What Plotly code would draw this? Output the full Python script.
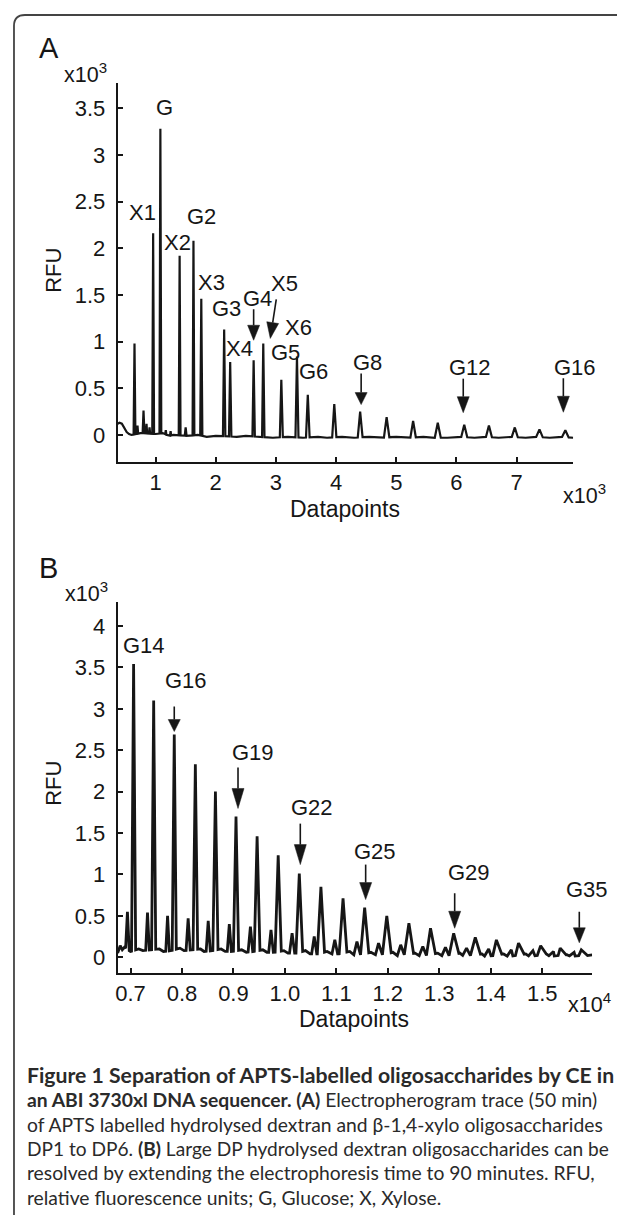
import numpy as np
import plotly.graph_objects as go

# ---------------- Panel A data (x: 10^3 datapoints, y: 10^3 RFU) ----------------
a_peak_x = [0.65, 0.70, 0.80, 0.85, 0.90, 0.96, 1.08, 1.17, 1.25, 1.40,
            1.50, 1.63, 1.76, 2.14, 2.24, 2.63, 2.79, 3.09, 3.35, 3.53,
            3.97, 4.40, 4.84, 5.28, 5.69, 6.13, 6.54, 6.97, 7.38, 7.81]
a_peak_h = [0.98, 0.10, 0.26, 0.12, 0.08, 2.16, 3.28, 0.05, 0.04, 1.92,
            0.08, 2.08, 1.46, 1.13, 0.78, 0.80, 0.98, 0.59, 0.84, 0.43,
            0.33, 0.25, 0.19, 0.15, 0.13, 0.11, 0.10, 0.08, 0.06, 0.05]
a_peak_w = [0.015, 0.01, 0.015, 0.01, 0.01, 0.015, 0.015, 0.01, 0.01, 0.015,
            0.015, 0.015, 0.018, 0.02, 0.02, 0.02, 0.02, 0.025, 0.025, 0.03,
            0.035, 0.04, 0.045, 0.045, 0.05, 0.05, 0.05, 0.05, 0.055, 0.055]
a_base_x = [0.37, 0.40, 0.44, 0.48, 0.52, 0.56, 0.60, 0.75, 1.00, 1.12, 1.22, 1.30,
            1.55, 1.70, 1.85, 2.00, 2.35, 2.50, 2.70, 2.95, 3.20, 3.45, 3.70, 3.85,
            4.10, 4.30, 4.55, 4.75, 5.00, 5.20, 5.45, 5.60, 5.85, 6.05, 6.30, 6.45,
            6.70, 6.90, 7.15, 7.30, 7.55, 7.72, 7.94]
a_base_y = [0.12, 0.13, 0.12, 0.08, 0.03, 0.01, 0.00, 0.02, 0.01, 0.02, -0.01, 0.00,
            -0.01, 0.00, -0.02, -0.01, -0.02, -0.01, -0.02, -0.03, -0.02, -0.03, -0.02, -0.03,
            -0.02, -0.03, -0.02, -0.03, -0.02, -0.03, -0.02, -0.03, -0.03, -0.02, -0.03, -0.02,
            -0.03, -0.02, -0.03, -0.02, -0.03, -0.02, -0.03]

# ---------------- Panel B data (x: 10^4 datapoints, y: 10^3 RFU) ----------------
b_main_x = [0.706, 0.745, 0.785, 0.826, 0.865, 0.905, 0.946, 0.987, 1.028, 1.070, 1.113,
            1.155, 1.198, 1.241, 1.283, 1.328, 1.370, 1.411, 1.454, 1.497, 1.535, 1.576]
b_main_h = [3.54, 3.10, 2.69, 2.33, 2.00, 1.70, 1.46, 1.23, 1.01, 0.85, 0.71,
            0.60, 0.50, 0.41, 0.35, 0.29, 0.24, 0.21, 0.17, 0.14, 0.11, 0.09]
b_main_w = [0.004, 0.004, 0.004, 0.0045, 0.005, 0.005, 0.0055, 0.006, 0.0065, 0.007, 0.0075,
            0.008, 0.0085, 0.009, 0.0095, 0.010, 0.010, 0.0105, 0.011, 0.011, 0.0115, 0.012]
b_minor_x = [0.694, 0.733, 0.772, 0.812, 0.851, 0.892, 0.933, 0.973, 1.014, 1.057, 1.097,
             1.140, 1.182, 1.225, 1.268, 1.312, 1.353, 1.396, 1.440, 1.482, 1.522, 1.562]
b_minor_h = [0.55, 0.54, 0.50, 0.47, 0.44, 0.40, 0.37, 0.33, 0.29, 0.25, 0.21,
             0.19, 0.17, 0.15, 0.13, 0.12, 0.11, 0.10, 0.09, 0.08, 0.07, 0.06]
b_minor_w = [0.0035, 0.0035, 0.0035, 0.004, 0.004, 0.004, 0.0045, 0.0045, 0.005, 0.005, 0.0055,
             0.006, 0.006, 0.0065, 0.007, 0.007, 0.0075, 0.008, 0.008, 0.0085, 0.009, 0.009]
b_base_x = [0.675, 0.680, 0.684, 0.688, 0.700, 0.716, 0.724, 0.739, 0.756, 0.764, 0.778,
            0.796, 0.804, 0.819, 0.836, 0.843, 0.858, 0.876, 0.884, 0.898, 0.916, 0.925,
            0.939, 0.957, 0.965, 0.980, 0.998, 1.006, 1.021, 1.040, 1.049, 1.063, 1.082,
            1.090, 1.105, 1.126, 1.133, 1.148, 1.167, 1.175, 1.190, 1.210, 1.218, 1.233,
            1.253, 1.261, 1.276, 1.297, 1.305, 1.320, 1.340, 1.346, 1.362, 1.383, 1.389,
            1.404, 1.425, 1.433, 1.447, 1.468, 1.475, 1.490, 1.508, 1.515, 1.529, 1.548,
            1.555, 1.569, 1.588, 1.597]
b_base_y = [0.05, 0.14, 0.09, 0.12, 0.07, 0.10, 0.08, 0.09, 0.10, 0.07, 0.08,
            0.11, 0.08, 0.09, 0.10, 0.07, 0.08, 0.10, 0.07, 0.07, 0.09, 0.06,
            0.07, 0.09, 0.06, 0.06, 0.08, 0.05, 0.05, 0.08, 0.04, 0.04, 0.07,
            0.04, 0.04, 0.07, 0.03, 0.03, 0.06, 0.03, 0.03, 0.06, 0.02, 0.03,
            0.05, 0.02, 0.02, 0.05, 0.02, 0.02, 0.05, 0.02, 0.02, 0.04, 0.01,
            0.02, 0.04, 0.01, 0.02, 0.04, 0.01, 0.02, 0.04, 0.01, 0.02, 0.03,
            0.01, 0.02, 0.02, 0.03]

a_xticks = [1, 2, 3, 4, 5, 6, 7]
a_yticks = [0, 0.5, 1, 1.5, 2, 2.5, 3, 3.5]
a_ytext = ["0", "0.5", "1", "1.5", "2", "2.5", "3", "3.5"]
b_xticks = [0.7, 0.8, 0.9, 1.0, 1.1, 1.2, 1.3, 1.4, 1.5]
b_xtext = ["0.7", "0.8", "0.9", "1.0", "1.1", "1.2", "1.3", "1.4", "1.5"]
b_yticks = [0, 0.5, 1, 1.5, 2, 2.5, 3, 3.5, 4]
b_ytext = ["0", "0.5", "1", "1.5", "2", "2.5", "3", "3.5", "4"]

# peak labels: (text, peak x) for each panel
a_labels = ["G", "X1", "X2", "G2", "X3", "G3", "X4", "G4", "X5", "G5", "X6", "G6", "G8", "G12", "G16"]
a_label_peak = [1.08, 0.96, 1.40, 1.63, 1.76, 2.14, 2.24, 2.63, 2.79, 3.09, 3.35, 3.53, 4.40, 6.13, 7.81]
a_arrow_peak = [2.63, 2.79, 4.40, 6.13, 7.81]
b_labels = ["G14", "G16", "G19", "G22", "G25", "G29", "G35"]
b_label_peak = [0.706, 0.785, 0.905, 1.028, 1.155, 1.328, 1.576]
b_arrow_peak = [0.785, 0.905, 1.028, 1.155, 1.328, 1.576]

# ---------------- layout geometry (pixels of the 625x1215 page) ----------------
PAGE_W, PAGE_H = 625, 1215
BODY = 8                         # default <body> margin of the html page
W, H = PAGE_W - BODY, PAGE_H - BODY
FONT = "Liberation Sans, Arial, Helvetica, sans-serif"
INK = "#161616"
FS = 22

# label offsets in px (dx right, up) from the peak apex
a_label_off = [(4, 21), (-11, 21), (-2, 13), (8, 24), (10, 16), (2, 21), (9, 14), (4, 62),
               (21, 60), (4, 27), (2, 29), (6, 23), (7, 49), (6, 57), (10, 63)]
# arrows: tip (dx, up) from apex, tail (tx, up) from tip, head length
a_arrow_geo = [((0, 20), (0, 31), 15), ((7, 5), (6, 39), 16), ((1, 7), (0, 31), 12),
               ((-1, 12), (0, 34), 16), ((-2, 18), (0, 34), 16)]
b_label_off = [(10, 19), (12, 54), (17, 64), (13, 66), (10, 56), (15, 61), (6, 60)]
b_arrow_geo = [((0, 3), (0, 25), 12), ((2, 8), (0, 41), 20), ((1, 9), (0, 41), 20),
               ((1, 8), (0, 35), 17), ((1, 5), (0, 35), 17), ((-2, 7), (0, 31), 15)]
HEAD_W = 12


def build_trace(px, ph, pw, bx, by):
    px, ph, pw = np.array(px), np.array(ph), np.array(pw)
    bx, by = np.array(bx), np.array(by)
    keep = np.array([np.all(np.abs(x - px) > pw) for x in bx])
    pts = list(zip(bx[keep], by[keep]))
    for x, h, w in zip(px, ph, pw):
        foot = np.interp([x - w, x + w], bx, by)
        pts += [(x - w, foot[0]), (x, h), (x + w, foot[1])]
    pts.sort(key=lambda p: p[0])
    return [p[0] for p in pts], [p[1] for p in pts]


def px2x(p):
    return (p - BODY) / W


def py2y(p):
    return 1 - (p - BODY) / H


ax_x, ax_y = build_trace(a_peak_x, a_peak_h, a_peak_w, a_base_x, a_base_y)
bx_all = b_main_x + b_minor_x
bh_all = b_main_h + b_minor_h
bw_all = b_main_w + b_minor_w
bx_x, bx_y = build_trace(bx_all, bh_all, bw_all, b_base_x, b_base_y)

fig = go.Figure()
fig.add_trace(go.Scatter(x=ax_x, y=ax_y, mode="lines", xaxis="x", yaxis="y",
                         line=dict(color=INK, width=2.2), hoverinfo="skip"))
fig.add_trace(go.Scatter(x=bx_x, y=bx_y, mode="lines", xaxis="x2", yaxis="y2",
                         line=dict(color=INK, width=2.8), hoverinfo="skip"))

axis_common = dict(showgrid=False, zeroline=False, showline=True, linecolor=INK, linewidth=2,
                   ticks="inside", ticklen=5, tickwidth=1.5, tickcolor=INK,
                   tickfont=dict(family=FONT, size=FS, color=INK), fixedrange=True)

fig.update_layout(
    width=W, height=H, margin=dict(l=0, r=0, t=0, b=0),
    paper_bgcolor="white", plot_bgcolor="white", showlegend=False,
    xaxis=dict(domain=[px2x(116), px2x(573)], range=[0.37, 7.94], anchor="y",
               tickvals=a_xticks, ticklabelstandoff=0, **axis_common),
    yaxis=dict(domain=[py2y(462), py2y(83)], range=[-0.29, 3.77], anchor="x",
               tickvals=a_yticks, ticktext=a_ytext, ticklabelstandoff=6, **axis_common),
    xaxis2=dict(domain=[px2x(116), px2x(592)], range=[0.675, 1.597], anchor="y2",
                tickvals=b_xticks, ticktext=b_xtext, ticklabelstandoff=0, **axis_common),
    yaxis2=dict(domain=[py2y(973), py2y(602)], range=[-0.19, 4.29], anchor="x2",
                tickvals=b_yticks, ticktext=b_ytext, ticklabelstandoff=6, **axis_common),
)

ann = []
tf = dict(family=FONT, size=FS, color=INK)


def paper_text(text, x, y, size=FS, xanchor="center", **kw):
    ann.append(dict(text=text, x=px2x(x), y=py2y(y), xref="paper", yref="paper",
                    showarrow=False, xanchor=xanchor, yanchor="middle",
                    font=dict(family=kw.pop("family", FONT), size=size, color=kw.pop("color", INK)), **kw))


# panel letters and axis text
paper_text("A", 47, 48, size=29)
paper_text("B", 47, 568, size=29)
paper_text("x10<sup>3</sup>", 84, 73, size=21.5)
paper_text("x10<sup>3</sup>", 85, 592, size=21.5)
paper_text("x10<sup>3</sup>", 584, 494, size=21.5)
paper_text("x10<sup>4</sup>", 589, 1003, size=21.5)
paper_text("Datapoints", 344, 509, size=23)
paper_text("Datapoints", 353, 1019, size=23)
paper_text("RFU", 51, 270, size=FS, textangle=-90)
paper_text("RFU", 51, 783, size=FS, textangle=-90)


def peak_height(xs, hs, x):
    return hs[int(np.argmin(np.abs(np.array(xs) - x)))]


shapes = []


def add_arrow(xref, yref, xa, ya, geo):
    (dx, up), (tx, tu), hl = geo
    tip = np.array([dx, up], float)
    tail = tip + np.array([tx, tu], float)
    d = (tip - tail) / np.linalg.norm(tip - tail)
    n = np.array([-d[1], d[0]])
    base = tip - d * hl
    p1 = base + n * HEAD_W / 2
    p2 = base - n * HEAD_W / 2
    common = dict(xref=xref, yref=yref, xsizemode="pixel", ysizemode="pixel",
                  xanchor=xa, yanchor=ya)
    shapes.append(dict(type="line", x0=tail[0], y0=tail[1], x1=base[0], y1=base[1],
                       line=dict(color=INK, width=1.6), **common))
    path = (f"M {tip[0]:.2f},{tip[1]:.2f} L {p1[0]:.2f},{p1[1]:.2f} "
            f"L {p2[0]:.2f},{p2[1]:.2f} Z")
    shapes.append(dict(type="path", path=path, fillcolor=INK,
                       line=dict(color=INK, width=0.5), **common))


for lab, pk, (dx, up) in zip(a_labels, a_label_peak, a_label_off):
    h = peak_height(a_peak_x, a_peak_h, pk)
    ann.append(dict(text=lab, x=pk, y=h, xref="x", yref="y", showarrow=False,
                    xshift=dx, yshift=up, xanchor="center", yanchor="middle", font=tf))
for pk, geo in zip(a_arrow_peak, a_arrow_geo):
    add_arrow("x", "y", pk, peak_height(a_peak_x, a_peak_h, pk), geo)
for lab, pk, (dx, up) in zip(b_labels, b_label_peak, b_label_off):
    h = peak_height(b_main_x, b_main_h, pk)
    ann.append(dict(text=lab, x=pk, y=h, xref="x2", yref="y2", showarrow=False,
                    xshift=dx, yshift=up, xanchor="center", yanchor="middle", font=tf))
for pk, geo in zip(b_arrow_peak, b_arrow_geo):
    add_arrow("x2", "y2", pk, peak_height(b_main_x, b_main_h, pk), geo)

# caption
CAP = "Lato, Open Sans, sans-serif"
caption_lines = [
    "<b>Figure 1 Separation of APTS-labelled oligosaccharides by CE in</b>",
    "<b>an ABI 3730xl DNA sequencer. (A)</b> Electropherogram trace (50 min)",
    "of APTS labelled hydrolysed dextran and β-1,4-xylo oligosaccharides",
    "DP1 to DP6. <b>(B)</b> Large DP hydrolysed dextran oligosaccharides can be",
    "resolved by extending the electrophoresis time to 90 minutes. RFU,",
    "relative fluorescence units; G, Glucose; X, Xylose.",
]
cap_y = [1075, 1099, 1124, 1148, 1172, 1197]
cap_size = [21.2, 19.3, 19.3, 19.1, 19.3, 19.3]
for line, y, s in zip(caption_lines, cap_y, cap_size):
    paper_text(line, 23, y, size=s, xanchor="left", family=CAP, color="#2a2a2a")

# rounded frame (top and left edges)
r = 11
path = (f"M {px2x(640)},{py2y(15)} L {px2x(12 + r)},{py2y(15)} "
        f"Q {px2x(12)},{py2y(15)} {px2x(12)},{py2y(15 + r)} L {px2x(12)},{py2y(1240)}")
shapes.append(dict(type="path", path=path, xref="paper", yref="paper",
                   line=dict(color="#444444", width=1.8)))

fig.update_layout(annotations=ann, shapes=shapes)

fig.write_html("out.html")
